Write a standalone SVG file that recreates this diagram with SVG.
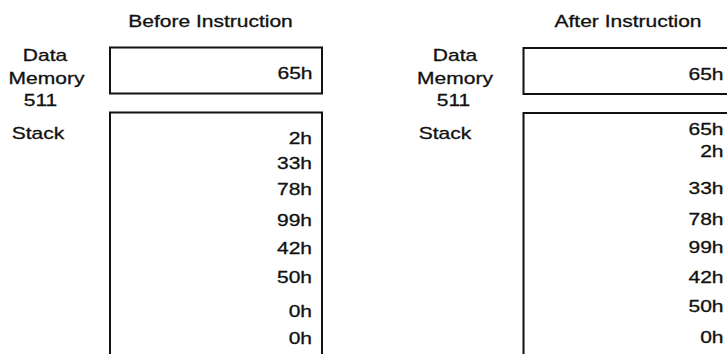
<svg xmlns="http://www.w3.org/2000/svg" width="727" height="354" viewBox="0 0 727 354">
<style>
text{font-family:"Liberation Sans",Arial,Helvetica,sans-serif;font-size:16.8px;fill:#111;stroke:#111;stroke-width:0.3}
.m{text-anchor:middle}
.e{text-anchor:end}
.box{fill:none;stroke:#111;stroke-width:2}
</style>
<rect width="727" height="354" fill="#fff"/>
<g id="before">
  <g id="before-title"><text class="m" transform="matrix(1.25 0 0 1 210.5 27)">Before Instruction</text></g>
  <g id="before-data-memory">
    <text class="m" transform="matrix(1.25 0 0 1 45 61)">Data</text>
    <text class="m" transform="matrix(1.25 0 0 1 46.5 84)">Memory</text>
    <text class="m" transform="matrix(1.25 0 0 1 40.5 106)">511</text>
    <rect class="box" x="110" y="47.5" width="212" height="46"/>
    <text class="e" transform="matrix(1.25 0 0 1 312.5 79)">65h</text>
  </g>
  <g id="before-stack">
    <text class="m" transform="matrix(1.25 0 0 1 38 139)">Stack</text>
    <path class="box" d="M110,360 V112.5 H322 V360"/>
    <text class="e" transform="matrix(1.25 0 0 1 312 144)">2h</text>
    <text class="e" transform="matrix(1.25 0 0 1 312 169)">33h</text>
    <text class="e" transform="matrix(1.25 0 0 1 312 195)">78h</text>
    <text class="e" transform="matrix(1.25 0 0 1 312 226)">99h</text>
    <text class="e" transform="matrix(1.25 0 0 1 312 254)">42h</text>
    <text class="e" transform="matrix(1.25 0 0 1 312 283)">50h</text>
    <text class="e" transform="matrix(1.25 0 0 1 312 317)">0h</text>
    <text class="e" transform="matrix(1.25 0 0 1 312 344)">0h</text>
  </g>
</g>
<g id="after">
  <g id="after-title"><text class="m" transform="matrix(1.25 0 0 1 628 27)">After Instruction</text></g>
  <g id="after-data-memory">
    <text class="m" transform="matrix(1.25 0 0 1 455 61)">Data</text>
    <text class="m" transform="matrix(1.25 0 0 1 455 84)">Memory</text>
    <text class="m" transform="matrix(1.25 0 0 1 453.5 106)">511</text>
    <rect class="box" x="523.5" y="48" width="220" height="46"/>
    <text class="e" transform="matrix(1.25 0 0 1 723.5 80)">65h</text>
  </g>
  <g id="after-stack">
    <text class="m" transform="matrix(1.25 0 0 1 445 139)">Stack</text>
    <path class="box" d="M523.5,360 V113 H740"/>
    <text class="e" transform="matrix(1.25 0 0 1 723.5 135)">65h</text>
    <text class="e" transform="matrix(1.25 0 0 1 723.5 157)">2h</text>
    <text class="e" transform="matrix(1.25 0 0 1 723.5 194)">33h</text>
    <text class="e" transform="matrix(1.25 0 0 1 723.5 225)">78h</text>
    <text class="e" transform="matrix(1.25 0 0 1 723.5 253)">99h</text>
    <text class="e" transform="matrix(1.25 0 0 1 723.5 283)">42h</text>
    <text class="e" transform="matrix(1.25 0 0 1 723.5 311.5)">50h</text>
    <text class="e" transform="matrix(1.25 0 0 1 723.5 343)">0h</text>
  </g>
</g>
<g id="connectors"/>
</svg>
